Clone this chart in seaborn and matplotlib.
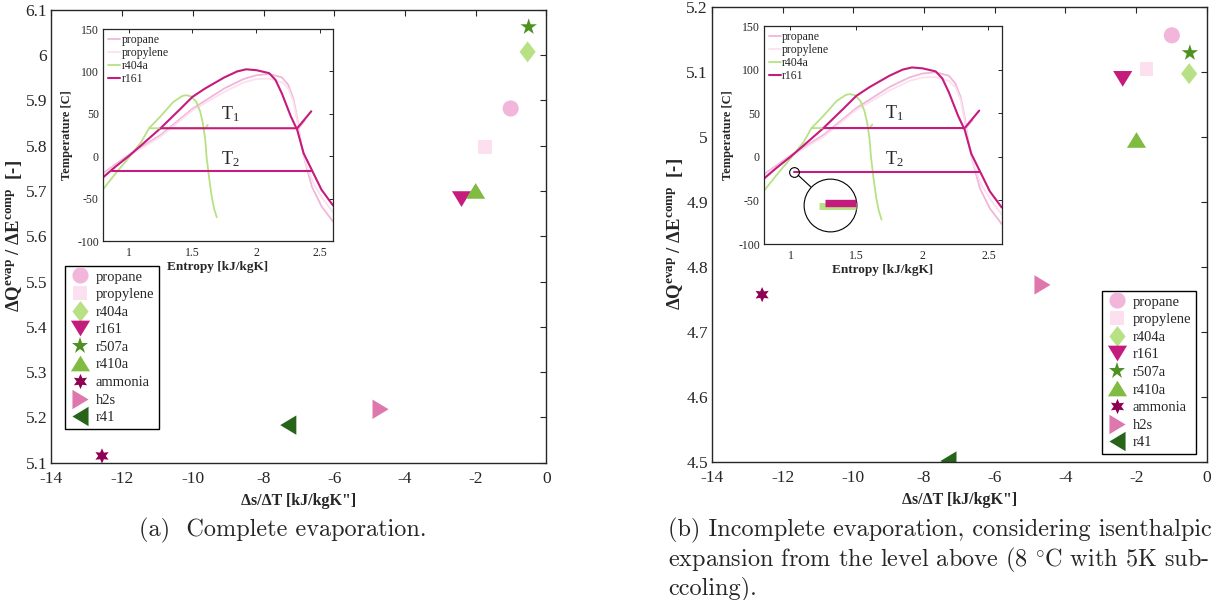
import matplotlib
matplotlib.use("Agg")
import pandas as pd
import matplotlib.pyplot as plt
from matplotlib.ticker import FuncFormatter
import seaborn as sns

# scatter data
fluids = ["propane", "propylene", "r404a", "r161", "r507a", "r410a", "ammonia", "h2s", "r41"]
colors = ["#f1b6da", "#fde0ef", "#b8e186", "#c51b7d", "#4d9221", "#7fbc41", "#8e0152", "#de77ae", "#276419"]

ds_dT_a = [-1.01, -1.74, -0.53, -2.40, -0.50, -2.00, -12.57, -4.69, -7.30]
ratio_a = [5.882, 5.797, 6.007, 5.682, 6.062, 5.700, 5.115, 5.218, 5.183]

ds_dT_b = [-0.99, -1.71, -0.50, -2.38, -0.48, -1.99, -12.58, -4.65, -7.31]
ratio_b = [5.156, 5.104, 5.097, 5.089, 5.129, 4.995, 4.757, 4.772, 4.501]

# T-s diagram in the insets
propane_s = [0.80, 1.00, 1.25, 1.50, 1.75, 1.90, 2.00, 2.10, 2.20, 2.25, 2.29, 2.32, 2.35, 2.385, 2.435, 2.51, 2.60]
propane_T = [-20, 1.5, 25, 56, 80, 91, 95.5, 97, 93, 84, 68, 45, 15, -8, -36, -59, -77]
propylene_s = [0.80, 1.00, 1.25, 1.50, 1.75, 1.90, 2.00, 2.10, 2.20, 2.25, 2.29, 2.32, 2.35, 2.39, 2.45, 2.52, 2.60]
propylene_T = [-22, 0, 23, 54, 76, 87, 91, 91.5, 87, 80, 65, 42, 15, -10, -33, -50, -66]
r404a_s = [0.80, 0.90, 1.00, 1.10, 1.16, 1.25, 1.35, 1.42, 1.45, 1.49, 1.53, 1.56, 1.58, 1.60, 1.61, 1.63, 1.65, 1.67, 1.69]
r404a_T = [-39, -20, -2, 17, 33, 47, 64, 71, 72, 70.5, 64, 53, 40, 20, 0, -25, -47, -62, -72]
r161_s = [0.80, 0.90, 1.00, 1.10, 1.25, 1.40, 1.50, 1.60, 1.75, 1.85, 1.92, 2.00, 2.10, 2.15, 2.20, 2.27, 2.32, 2.37, 2.44, 2.51, 2.60]
r161_T = [-25, -12, 0, 13, 33, 55, 70, 80, 93, 100, 102.5, 101.5, 98, 90, 74, 47, 31, 3.5, -18, -39.5, -58]

# cycle levels
T1 = 33
T2 = -17
r161_t1_s = [1.25, 2.32, 2.43]
r161_t1_T = [T1, T1, 53]
r404a_t1_s = [1.16, 1.60, 1.62]
r404a_t1_T = [T1, T1, 37]
propane_t1_s = [2.33, 2.38]
propane_t1_T = [T1, 42]
t2_end = 2.43
t2_start_a = 0.87
t2_start_b = 1.03

sns.set_style("white")
plt.rcParams["font.family"] = ["Liberation Serif", "DejaVu Serif"]
plt.rcParams["mathtext.fontset"] = "custom"
plt.rcParams["mathtext.rm"] = "Liberation Serif"
plt.rcParams["mathtext.it"] = "Liberation Serif:italic"
plt.rcParams["mathtext.bf"] = "Liberation Serif:bold"
plt.rcParams["axes.unicode_minus"] = False
plt.rcParams["axes.edgecolor"] = "#262626"

palette = dict(zip(fluids, colors))
markers = {
    "propane": "o",
    "propylene": "s",
    "r404a": [(0, 1), (0.77, 0), (0, -1), (-0.77, 0)],
    "r161": [(-1, 0.82), (1, 0.82), (0, -0.82)],
    "r507a": "*",
    "r410a": [(-1, -0.82), (1, -0.82), (0, 0.82)],
    "ammonia": (6, 1, 0),
    "h2s": [(-0.83, 1), (-0.83, -1), (0.83, 0)],
    "r41": [(0.83, 1), (0.83, -1), (-0.83, 0)],
}
sizes = {"propane": 135, "propylene": 95, "r404a": 228, "r161": 190, "r507a": 155,
         "r410a": 190, "ammonia": 120, "h2s": 195, "r41": 195}

fmt = FuncFormatter(lambda v, p: "%g" % round(v, 3))

fig = plt.figure(figsize=(12.22, 6), dpi=100)


def draw_main(ax, xs, ys, ylim, yticks, legend_xy):
    df = pd.DataFrame({"x": xs, "y": ys, "fluid": fluids})
    sns.scatterplot(data=df, x="x", y="y", hue="fluid", style="fluid", size="fluid",
                    palette=palette, markers=markers, sizes=sizes, linewidth=0, ax=ax)
    leg = ax.get_legend()
    handles = list(leg.legend_handles)
    labels = [t.get_text() for t in leg.get_texts()]
    for h in handles:
        h.set_markeredgewidth(0)
    ax.legend(handles, labels, loc="upper left", bbox_to_anchor=legend_xy,
              bbox_transform=fig.transFigure, frameon=True, fancybox=False,
              edgecolor="black", framealpha=1, borderaxespad=0, fontsize=10.5,
              handlelength=1.5, handletextpad=0.3, labelspacing=0.3, borderpad=0.3)
    ax.set_xlim(-14, 0)
    ax.set_xticks(range(-14, 1, 2))
    ax.set_ylim(*ylim)
    ax.set_yticks(yticks)
    ax.xaxis.set_major_formatter(fmt)
    ax.yaxis.set_major_formatter(fmt)
    ax.tick_params(direction="in", top=True, right=True, length=4, width=0.8,
                   labelsize=12.5, pad=3)
    ax.tick_params(axis="x", pad=6)
    for sp in ax.spines.values():
        sp.set_linewidth(1.0)
    ax.set_xlabel("Δs/ΔT [kJ/kgK\"]", fontsize=11.5, fontweight="bold", labelpad=4)
    ax.set_ylabel(r"$\mathbf{\Delta Q^{evap}}$ / $\mathbf{\Delta E^{comp}}$  [-]",
                  fontsize=13.5, fontweight="bold", labelpad=1)


def draw_inset(axi, t2_start):
    curves = [("propane", propane_s, propane_T, "#f1b6da", 1.3),
              ("propylene", propylene_s, propylene_T, "#fde0ef", 1.3),
              ("r404a", r404a_s, r404a_T, "#b8e186", 1.3),
              ("r161", r161_s, r161_T, "#c51b7d", 1.5)]
    for name, s, T, c, lw in curves:
        sns.lineplot(x=s, y=T, sort=False, estimator=None, color=c, lw=lw, ax=axi, label=name)
    axi.plot(propane_t1_s, propane_t1_T, color="#f1b6da", lw=1.2)
    axi.plot(r404a_t1_s, r404a_t1_T, color="#b8e186", lw=1.3)
    axi.plot(r161_t1_s, r161_t1_T, color="#c51b7d", lw=1.5)
    axi.plot([t2_start, t2_end], [T2, T2], color="#c51b7d", lw=1.5)
    axi.text(1.72, 50, r"T$_1$", fontsize=13, ha="left", va="center")
    axi.text(1.72, -3, r"T$_2$", fontsize=13, ha="left", va="center")
    axi.set_xlim(0.8, 2.6)
    axi.set_ylim(-100, 150)
    axi.set_xticks([1, 1.5, 2, 2.5])
    axi.set_yticks(range(-100, 151, 50))
    axi.xaxis.set_major_formatter(fmt)
    axi.yaxis.set_major_formatter(fmt)
    axi.tick_params(direction="in", top=True, right=True, length=3, width=0.7,
                    labelsize=8.5, pad=3)
    axi.tick_params(axis="x", pad=4)
    for sp in axi.spines.values():
        sp.set_linewidth(0.9)
    axi.set_xlabel("Entropy [kJ/kgK]", fontsize=9.5, fontweight="bold", labelpad=2)
    axi.set_ylabel("Temperature [C]", fontsize=9, fontweight="bold", labelpad=3)
    axi.legend(loc="upper left", frameon=False, fontsize=8.5, handlelength=1.0,
               handletextpad=0.1, labelspacing=0.08, borderaxespad=0.25, borderpad=0.2)


# (a) complete evaporation
ax_a = fig.add_axes([0.0421, 0.2288, 0.4050, 0.7550])
draw_main(ax_a, ds_dT_a, ratio_a, (5.1, 6.1), [5.1 + 0.1 * i for i in range(11)],
          (65 / 1222, 1 - 266 / 600))
ins_a = fig.add_axes([0.0843, 0.5983, 0.1882, 0.3533])
draw_inset(ins_a, t2_start_a)

# (b) incomplete evaporation
ax_b = fig.add_axes([0.5826, 0.2305, 0.4050, 0.7583])
draw_main(ax_b, ds_dT_b, ratio_b, (4.5, 5.2), [4.5 + 0.1 * i for i in range(8)],
          (1102 / 1222, 1 - 291 / 600))
ins_b = fig.add_axes([0.6252, 0.5933, 0.1945, 0.3633])
draw_inset(ins_b, t2_start_b)

# magnifier showing the start of the T2 line
zoom_center = (1.30, -55)
ins_b.plot([t2_start_b], [T2], marker="o", ms=7, mfc="none", mec="black", mew=0.8)
ins_b.plot([zoom_center[0]], [zoom_center[1]], marker="o", ms=38, mfc="white", mec="black", mew=0.8)
ins_b.annotate("", xy=zoom_center, xytext=(t2_start_b, T2),
               arrowprops=dict(arrowstyle="-", color="black", lw=0.8, shrinkA=3.6, shrinkB=19))
ins_b.plot([1.215, 1.50], [-55.9, -55.9], color="#b8e186", lw=5, solid_capstyle="butt")
ins_b.plot([1.26, 1.50], [-53.5, -53.5], color="#c51b7d", lw=5.3, solid_capstyle="butt")

# captions
cap_font = ["cmr10", "DejaVu Serif"]
fig.text(283 / 1222, 1 - 530 / 600, "(a)  Complete evaporation.", fontsize=17.5,
         family=cap_font, ha="center", va="center")
cap_lines = ["(b) Incomplete evaporation, considering isenthalpic",
             r"expansion from the level above (8 $^{\circ}$C with 5K sub-",
             "ccoling)."]
for i, line in enumerate(cap_lines):
    fig.text(668 / 1222, 1 - (530 + 29.5 * i) / 600, line, fontsize=17.5,
             family=cap_font, ha="left", va="center")

fig.savefig("out.png", dpi=100)
